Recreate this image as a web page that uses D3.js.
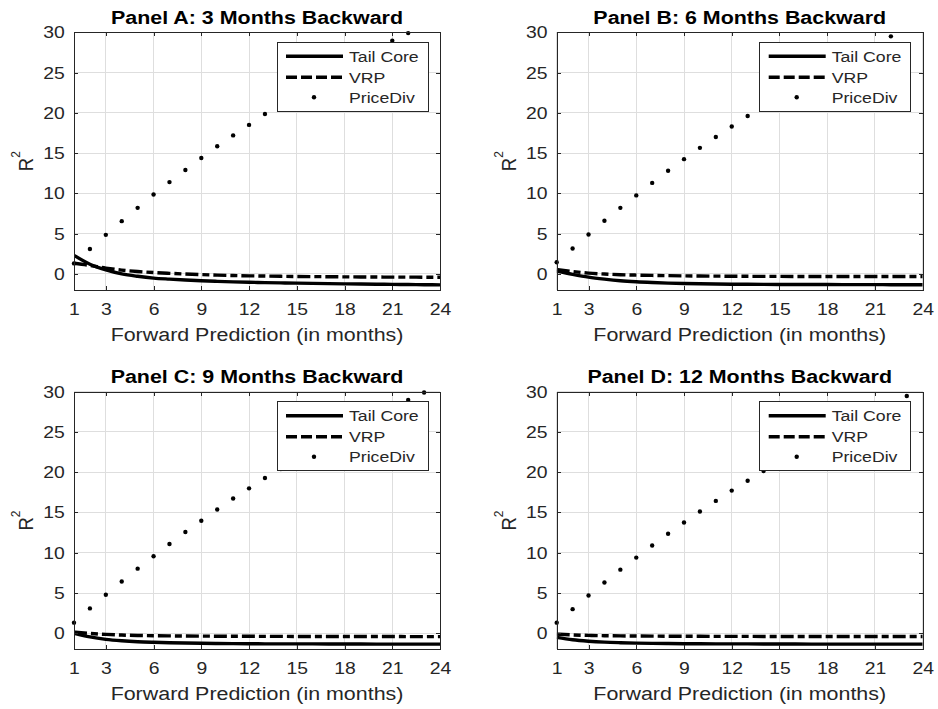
<!DOCTYPE html>
<html>
<head>
<meta charset="utf-8">
<script src="https://cdn.jsdelivr.net/npm/d3@7"></script>
<style>
  body { margin: 0; background: #fff; }
  svg { display: block; font-family: "Liberation Sans", Arial, Helvetica, sans-serif; }
</style>
</head>
<body>
<svg id="chart" width="938" height="709"></svg>
<script>
const months = [1,2,3,4,5,6,7,8,9,10,11,12,13,14,15,16,17,18,19,20,21,22,23,24];
const xTicks = [1,3,6,9,12,15,18,21,24];
const yTicks = [0,5,10,15,20,25,30];
const panelTitles = [
  "Panel A: 3 Months Backward",
  "Panel B: 6 Months Backward",
  "Panel C: 9 Months Backward",
  "Panel D: 12 Months Backward"
];
const seriesNames = ["Tail Core", "VRP", "PriceDiv"];

// R^2 (in %), one value per forward month
const tailCoreA = [2.3, 1.2, 0.5, 0.0, -0.3, -0.52, -0.65, -0.76, -0.86, -0.93, -0.99, -1.04, -1.08, -1.12, -1.15, -1.18, -1.21, -1.24, -1.26, -1.28, -1.30, -1.32, -1.34, -1.36];
const vrpA      = [1.32, 1.05, 0.72, 0.47, 0.3, 0.17, 0.07, -0.02, -0.09, -0.15, -0.2, -0.24, -0.27, -0.3, -0.32, -0.34, -0.35, -0.37, -0.38, -0.39, -0.4, -0.4, -0.41, -0.41];
const priceDivA = [1.3, 3.1, 4.85, 6.55, 8.2, 9.85, 11.4, 12.9, 14.4, 15.85, 17.2, 18.5, 19.85, 21.0, 22.15, 23.3, 24.45, 25.55, 26.7, 27.8, 28.95, 29.9, 30.9, 31.8];

const tailCoreB = [0.35, -0.05, -0.4, -0.65, -0.85, -0.98, -1.07, -1.14, -1.19, -1.23, -1.26, -1.28, -1.29, -1.3, -1.31, -1.31, -1.32, -1.32, -1.33, -1.33, -1.33, -1.34, -1.34, -1.34];
const vrpB      = [0.55, 0.3, 0.1, -0.02, -0.1, -0.15, -0.19, -0.22, -0.25, -0.27, -0.28, -0.29, -0.3, -0.31, -0.31, -0.32, -0.32, -0.32, -0.33, -0.33, -0.33, -0.33, -0.33, -0.33];
const priceDivB = [1.45, 3.15, 4.9, 6.6, 8.2, 9.75, 11.3, 12.8, 14.25, 15.65, 17.0, 18.3, 19.6, 20.75, 21.9, 23.0, 24.15, 25.25, 26.35, 27.4, 28.45, 29.5, 30.5, 31.5];

const tailCoreC = [0.0, -0.45, -0.75, -0.93, -1.05, -1.12, -1.17, -1.21, -1.24, -1.26, -1.28, -1.3, -1.31, -1.31, -1.32, -1.32, -1.33, -1.33, -1.33, -1.34, -1.34, -1.34, -1.34, -1.34];
const vrpC      = [0.15, -0.02, -0.14, -0.22, -0.27, -0.3, -0.32, -0.34, -0.35, -0.36, -0.37, -0.37, -0.38, -0.38, -0.39, -0.39, -0.39, -0.4, -0.4, -0.4, -0.4, -0.41, -0.41, -0.41];
const priceDivC = [1.32, 3.09, 4.78, 6.43, 8.03, 9.56, 11.08, 12.57, 13.97, 15.37, 16.73, 18.0, 19.28, 20.4, 21.5, 22.6, 23.7, 24.75, 25.8, 26.9, 27.95, 28.97, 29.9, 30.8];

const tailCoreD = [-0.5, -0.8, -0.98, -1.1, -1.17, -1.22, -1.25, -1.27, -1.29, -1.3, -1.31, -1.32, -1.32, -1.33, -1.33, -1.33, -1.34, -1.34, -1.34, -1.34, -1.34, -1.35, -1.35, -1.35];
const vrpD      = [-0.1, -0.2, -0.26, -0.3, -0.32, -0.34, -0.35, -0.36, -0.37, -0.37, -0.38, -0.38, -0.38, -0.39, -0.39, -0.39, -0.39, -0.4, -0.4, -0.4, -0.4, -0.4, -0.4, -0.4];
const priceDivD = [1.32, 3.0, 4.7, 6.3, 7.9, 9.4, 10.9, 12.36, 13.76, 15.12, 16.44, 17.72, 18.95, 20.15, 21.2, 22.25, 23.3, 24.35, 25.35, 26.4, 27.4, 28.45, 29.46, 30.45];

const panels = [
  {title: panelTitles[0], left: 74,    top: 32.3,  tail: tailCoreA, vrp: vrpA, pd: priceDivA},
  {title: panelTitles[1], left: 556.7, top: 32.3,  tail: tailCoreB, vrp: vrpB, pd: priceDivB},
  {title: panelTitles[2], left: 74,    top: 391.7, tail: tailCoreC, vrp: vrpC, pd: priceDivC},
  {title: panelTitles[3], left: 556.7, top: 391.7, tail: tailCoreD, vrp: vrpD, pd: priceDivD}
];

const W = 366, H = 257.7;
const S = 1.14;          // reference glyphs are a bit wider than tall
const ink = "#262626";
const gridColor = "#dedede";
const lineW = 3.4;

const svg = d3.select("#chart");

// text with the horizontal stretch applied
function label(parent, x, y, str, size, anchor = "middle") {
  return parent.append("text")
    .attr("transform", `translate(${x},${y}) scale(${S},1)`)
    .attr("text-anchor", anchor)
    .attr("font-size", size)
    .attr("fill", ink)
    .text(str);
}

function drawPanel(p, idx) {
  const g = svg.append("g").attr("transform", `translate(${p.left},${p.top})`);

  const x = d3.scaleLinear().domain([1, 24]).range([0, W]);
  const y = d3.scaleLinear().domain([-2, 30]).range([H, 0]);

  // grid
  const grid = g.append("g").attr("shape-rendering", "crispEdges");
  grid.selectAll("line.vx").data(xTicks).join("line")
      .attr("class", "vx")
      .attr("x1", d => x(d)).attr("x2", d => x(d))
      .attr("y1", 0).attr("y2", H)
      .attr("stroke", gridColor);
  grid.selectAll("line.hy").data(yTicks).join("line")
      .attr("class", "hy")
      .attr("x1", 0).attr("x2", W)
      .attr("y1", d => y(d)).attr("y2", d => y(d))
      .attr("stroke", gridColor);

  // clip for the lines
  svg.append("clipPath").attr("id", "clip" + idx)
    .append("rect").attr("width", W).attr("height", H);

  const line = d3.line()
      .x((d, i) => x(months[i]))
      .y(d => y(d))
      .curve(d3.curveMonotoneX);

  const lines = g.append("g").attr("clip-path", `url(#clip${idx})`);
  lines.append("path")
      .attr("d", line(p.vrp))
      .attr("fill", "none")
      .attr("stroke", "#000")
      .attr("stroke-width", lineW)
      .attr("stroke-dasharray", "13,4,7,4");
  lines.append("path")
      .attr("d", line(p.tail))
      .attr("fill", "none")
      .attr("stroke", "#000")
      .attr("stroke-width", lineW);

  // PriceDiv dots, points above the y limit are not shown
  g.append("g").selectAll("circle")
    .data(p.pd.map((v, i) => ({m: months[i], v})).filter(d => d.v <= 30))
    .join("circle")
      .attr("cx", d => x(d.m))
      .attr("cy", d => y(d.v))
      .attr("r", 2.2)
      .attr("fill", "#000");

  // axes, ticks point inward
  const axB = g.append("g").attr("transform", `translate(0,${H})`)
      .call(d3.axisBottom(x).tickValues(xTicks).tickSize(-4).tickSizeOuter(0).tickPadding(13));
  const axL = g.append("g")
      .call(d3.axisLeft(y).tickValues(yTicks).tickSize(-4).tickSizeOuter(0).tickPadding(8));
  g.append("g")
      .call(d3.axisTop(x).tickValues(xTicks).tickSize(-4).tickSizeOuter(0).tickFormat(""));
  g.append("g").attr("transform", `translate(${W},0)`)
      .call(d3.axisRight(y).tickValues(yTicks).tickSize(-4).tickSizeOuter(0).tickFormat(""));

  g.selectAll(".domain, .tick line").attr("stroke", ink).attr("shape-rendering", "crispEdges");
  g.selectAll(".tick text").attr("fill", ink);
  axB.selectAll("text")
      .attr("font-size", 17)
      .attr("transform", `scale(${S},1)`);
  axL.selectAll("text")
      .attr("font-size", 17)
      .attr("transform", `scale(${S},1)`);
  g.selectAll("g").attr("font-family", null);

  // legend
  const lx = W - 12 - 151, ly = 10;
  const leg = g.append("g").attr("transform", `translate(${lx},${ly})`);
  leg.append("rect")
      .attr("width", 151).attr("height", 69)
      .attr("fill", "#fff")
      .attr("stroke", ink)
      .attr("shape-rendering", "crispEdges");
  const rows = [14, 35, 55];
  leg.append("line")
      .attr("x1", 9).attr("x2", 66).attr("y1", rows[0]).attr("y2", rows[0])
      .attr("stroke", "#000").attr("stroke-width", lineW);
  leg.append("line")
      .attr("x1", 9).attr("x2", 66).attr("y1", rows[1]).attr("y2", rows[1])
      .attr("stroke", "#000").attr("stroke-width", lineW)
      .attr("stroke-dasharray", "11,4");
  leg.append("circle")
      .attr("cx", 37).attr("cy", rows[2]).attr("r", 2.2).attr("fill", "#000");
  seriesNames.forEach((name, i) => label(leg, 72, rows[i] + 5.6, name, 15.5, "start"));

  // title and axis labels
  label(g, W / 2, -8.3, p.title, 18.8).attr("font-weight", "bold").attr("fill", "#000");
  label(g, W / 2, H + 50.7, "Forward Prediction (in months)", 18.8);

  const yl = g.append("text")
      .attr("transform", `translate(-41,${H / 2}) scale(${S},1) rotate(-90)`)
      .attr("text-anchor", "middle")
      .attr("font-size", 18.5)
      .attr("fill", ink);
  yl.append("tspan").text("R");
  yl.append("tspan").attr("font-size", 12).attr("dy", -11).text("2");
}

panels.forEach(drawPanel);
</script>
</body>
</html>
